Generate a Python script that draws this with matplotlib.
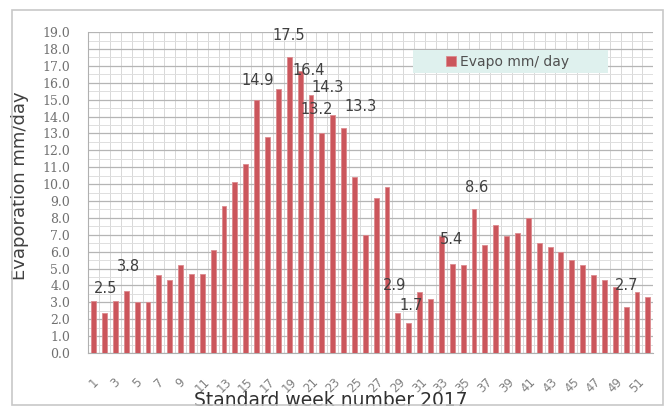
import matplotlib
matplotlib.use("Agg")
import matplotlib.pyplot as plt
from matplotlib.patches import Rectangle
import numpy as np

# weekly evaporation (mm/day), standard weeks 1..52 of 2017
weeks = np.arange(1, 53)
evapo = [3.1, 2.4, 3.1, 3.7, 3.0, 3.0, 4.6, 4.3, 5.2, 4.7,
         4.7, 6.1, 8.7, 10.1, 11.2, 15.0, 12.8, 15.6, 17.5, 16.7,
         15.3, 13.0, 14.1, 13.3, 10.4, 7.0, 9.2, 9.8, 2.4, 1.8,
         3.6, 3.2, 6.9, 5.3, 5.2, 8.5, 6.4, 7.6, 6.9, 7.1,
         8.0, 6.5, 6.3, 6.0, 5.5, 5.2, 4.6, 4.3, 3.9, 2.7,
         3.6, 3.3]

# stray data labels as they sit on the original chart
label_text = ["2.5", "3.8", "14.9", "17.5", "16.4", "14.3", "13.2", "13.3",
              "2.9", "1.7", "5.4", "8.6", "2.7"]
label_week = [2.1, 4.2, 16.1, 19.0, 20.8, 22.5, 21.5, 25.6,
              28.7, 30.2, 33.9, 36.2, 50.0]
label_y = [3.85, 5.1, 16.15, 18.8, 16.7, 15.7, 14.4, 14.6,
           4.0, 2.8, 6.7, 9.8, 4.0]

tick_weeks = list(range(1, 53, 2))
y_ticks = np.arange(0, 20, 1.0)

fig = plt.figure(figsize=(6.68, 4.11), dpi=100)
fig.patches.append(Rectangle((0.018, 0.015), 0.975, 0.96, transform=fig.transFigure,
                             fill=False, edgecolor="#c8c8c8", linewidth=1.2))

ax = fig.add_axes([0.132, 0.141, 0.846, 0.781])
ax.bar(weeks, evapo, width=0.45, color="#cb565c", edgecolor="#dc8a8e",
       linewidth=0.6, label="Evapo mm/ day", zorder=3)

for t, wx, wy in zip(label_text, label_week, label_y):
    ax.text(wx, wy, t, ha="center", va="center", fontsize=10.5,
            color="#404040", zorder=4)

ax.set_xlim(0.5, 52.5)
ax.set_ylim(0, 19)
ax.set_yticks(y_ticks)
ax.set_yticklabels(["%.1f" % v for v in y_ticks], fontsize=9,
                   color="#707070", family="DejaVu Serif")
ax.set_xticks(tick_weeks)
ax.set_xticklabels([str(w) for w in tick_weeks], rotation=45, ha="center",
                   va="top", fontsize=8.5, color="#808080")
ax.set_xticks(np.arange(0.5, 53, 1), minor=True)
ax.set_yticks(np.arange(0.5, 19, 1), minor=True)
ax.tick_params(axis="both", which="both", length=0)
ax.tick_params(axis="y", pad=13)
ax.tick_params(axis="x", pad=16)

ax.grid(True, which="major", axis="y", color="#b5b5b5", linewidth=0.9, zorder=0)
ax.grid(True, which="minor", axis="y", color="#dedede", linewidth=0.7, zorder=0)
ax.grid(True, which="minor", axis="x", color="#d8d8d8", linewidth=0.7, zorder=0)

for s in ["top", "right"]:
    ax.spines[s].set_visible(False)
ax.spines["left"].set_color("#b0b0b0")
ax.spines["bottom"].set_color("#b0b0b0")

ax.set_ylabel("Evaporation mm/day", fontsize=13, color="#404040", labelpad=0)
ax.yaxis.set_label_coords(-0.105, 0.52)
ax.set_xlabel("Standard week number 2017", fontsize=13.5, color="#303030")
ax.xaxis.set_label_coords(0.43, -0.118)

# legend sits on a pale box wider than its content
ax.add_patch(Rectangle((0.575, 0.873), 0.345, 0.07, transform=ax.transAxes,
                       facecolor="#dff1ee", edgecolor="none", zorder=4))
leg = ax.legend(loc="center left", bbox_to_anchor=(0.633, 0.908), fontsize=10,
                frameon=False, handlelength=0.7, handleheight=0.7,
                handletextpad=0.3, borderpad=0, borderaxespad=0)
leg.set_zorder(5)
for txt in leg.get_texts():
    txt.set_color("#505050")

fig.savefig("out.png", dpi=100)
